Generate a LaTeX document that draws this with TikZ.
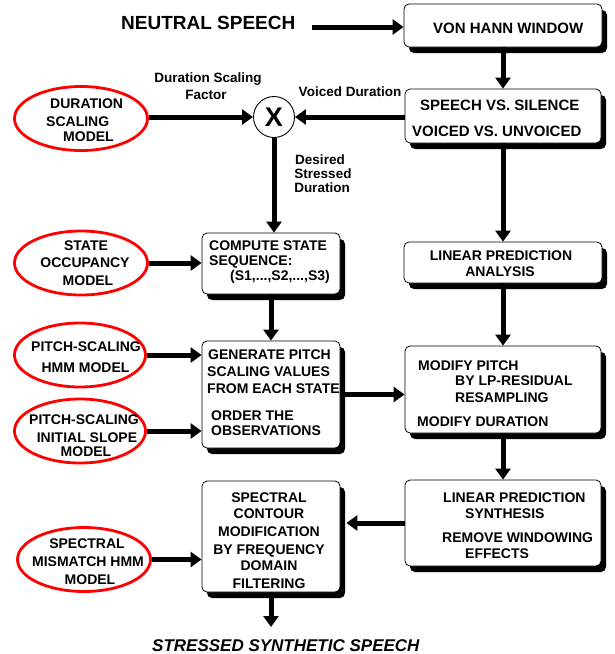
\documentclass[tikz,border=0pt]{standalone}
\usepackage{fontspec}
\setmainfont{Liberation Sans}
\usetikzlibrary{arrows.meta,shapes.geometric,shadows}
\begin{document}
\begin{tikzpicture}[x=1pt,y=-1pt,
  txt/.style={inner sep=0pt, anchor=base west, font=\fontsize{14}{16}\selectfont\bfseries},
  bigtxt/.style={txt, font=\fontsize{15}{17}\selectfont\bfseries},
  ctxt/.style={txt, anchor=base},
  lbl/.style={inner sep=0pt, anchor=base, font=\fontsize{13.5}{16}\selectfont\bfseries},
  box/.style={draw, line width=0.8pt, rounded corners=5pt, fill=white,
    drop shadow={shadow xshift=5pt, shadow yshift=-6pt, fill=black, opacity=1}},
  model/.style={ellipse, draw=red, line width=2.8pt, fill=white, inner sep=0pt},
  arr/.style={line width=5pt, -{Triangle[width=15pt,length=11pt]}}
]
\useasboundingbox (0,0) rectangle (614,654);

% boxes
\node[box, minimum width=198pt, minimum height=43pt] (vh) at (503,25.5) {};
\node[box, minimum width=196pt, minimum height=54pt] (sv) at (503,116) {};
\node[box, minimum width=198pt, minimum height=41pt] (lpa) at (503,262.5) {};
\node[box, minimum width=196pt, minimum height=87pt] (mp) at (503,389.5) {};
\node[box, minimum width=196pt, minimum height=86pt] (lps) at (503,523) {};
\node[box, minimum width=138pt, minimum height=61pt] (cs) at (271,263.5) {};
\node[box, minimum width=138pt, minimum height=107pt] (gp) at (271,394.5) {};
\node[box, minimum width=138pt, minimum height=111pt] (sc) at (271,536.5) {};

% models
\node[model, minimum width=133pt, minimum height=64pt] (e1) at (81,118.5) {};
\node[model, minimum width=133pt, minimum height=64pt] (e2) at (81,263) {};
\node[model, minimum width=131pt, minimum height=64pt] (e3) at (80,355) {};
\node[model, minimum width=131pt, minimum height=64pt] (e4) at (80,431) {};
\node[model, minimum width=133pt, minimum height=64pt] (e5) at (84,559.5) {};

% multiplier
\node[circle, draw, line width=0.9pt, fill=white, minimum size=41pt, inner sep=0pt,
  font=\fontsize{27}{27}\selectfont\bfseries] (X) at (274,117) {X};

% free texts
\node[inner sep=0pt, anchor=base west, font=\fontsize{19}{20}\selectfont\bfseries] (ns) at (121,29.5) {NEUTRAL SPEECH};
\node[inner sep=0pt, anchor=base west, font=\fontsize{17}{20}\selectfont\bfseries\itshape] (sss) at (152,651) {STRESSED SYNTHETIC SPEECH};
\node[lbl] (l1) at (208,82) {Duration Scaling};
\node[lbl] (l2) at (206,99) {Factor};
\node[lbl] (l3) at (350,96) {Voiced Duration};
\node[lbl] (l4) at (320,164) {Desired};
\node[lbl] (l5) at (323,178) {Stressed};
\node[lbl] (l6) at (322,192) {Duration};

% box texts
\node[bigtxt] (t1) at (433,33) {VON HANN WINDOW};
\node[bigtxt] (t2) at (420,110.5) {SPEECH VS. SILENCE};
\node[bigtxt] (t3) at (412,136) {VOICED VS. UNVOICED};
\node[ctxt] (t4) at (501,260) {LINEAR PREDICTION};
\node[ctxt] (t5) at (500,276) {ANALYSIS};
\node[txt] (t6) at (418,370) {MODIFY PITCH};
\node[txt] (t7) at (455,385) {BY LP-RESIDUAL};
\node[txt] (t8) at (455,402) {RESAMPLING};
\node[txt] (t9) at (417,426) {MODIFY DURATION};
\node[txt] (t10) at (443,502) {LINEAR PREDICTION};
\node[txt] (t11) at (465,518) {SYNTHESIS};
\node[txt] (t12) at (442,542) {REMOVE WINDOWING};
\node[txt] (t13) at (465,558) {EFFECTS};
\node[txt] (t14) at (209,250) {COMPUTE STATE};
\node[txt] (t15) at (209,265) {SEQUENCE:};
\node[txt] (t16) at (230,280) {(S1,...,S2,...,S3)};
\node[txt] (t17) at (208,359) {GENERATE PITCH};
\node[txt] (t18) at (207,376) {SCALING VALUES};
\node[txt] (t19) at (207,393) {FROM EACH STATE};
\node[txt] (t20) at (211,420) {ORDER THE};
\node[txt] (t21) at (211,435) {OBSERVATIONS};
\node[ctxt] (t22) at (269,502) {SPECTRAL};
\node[ctxt] (t23) at (269,518) {CONTOUR};
\node[ctxt] (t24) at (269,536) {MODIFICATION};
\node[ctxt] (t25) at (269,554) {BY FREQUENCY};
\node[ctxt] (t26) at (269,570) {DOMAIN};
\node[ctxt] (t27) at (269,588) {FILTERING};

% model texts
\node[txt] (m1) at (50,108) {DURATION};
\node[txt] (m2) at (46,126) {SCALING};
\node[txt] (m3) at (63,141) {MODEL};
\node[ctxt] (m4) at (86,250) {STATE};
\node[ctxt] (m5) at (85,267) {OCCUPANCY};
\node[ctxt] (m6) at (88,285) {MODEL};
\node[ctxt] (m7) at (86,351) {PITCH-SCALING};
\node[ctxt] (m8) at (85.5,372) {HMM MODEL};
\node[ctxt] (m9) at (84,424) {PITCH-SCALING};
\node[ctxt] (m10) at (87,442) {INITIAL SLOPE};
\node[ctxt] (m11) at (86,456) {MODEL};
\node[ctxt] (m12) at (87,548) {SPECTRAL};
\node[ctxt] (m13) at (88,566) {MISMATCH HMM};
\node[ctxt] (m14) at (90,584) {MODEL};

% connectors
\coordinate (ns0) at (312,27);
\draw[arr] (ns0) -- (ns0 -| vh.west);
\draw[arr] (vh.south) -- (sv.north);
\draw[arr] (sv.west |- X) -- (X.east);
\draw[arr] (e1.east |- X) -- (X.west);
\draw[arr] (X.south) -- (X.south |- cs.north);
\draw[arr] (sv.south) -- (lpa.north);
\draw[arr] (e2.east) -- (e2.east -| cs.west);
\draw[arr] (cs.south) -- (gp.north);
\draw[arr] (e3.east) -- (e3.east -| gp.west);
\draw[arr] (e4.east) -- (e4.east -| gp.west);
\draw[arr] (lpa.south) -- (mp.north);
\draw[arr] (gp.east) -- (gp.east -| mp.west);
\draw[arr] (mp.south) -- (lps.north);
\coordinate (scs) at ([xshift=6pt]sc.east);
\draw[arr] (lps.west) -- (lps.west -| scs);
\draw[arr] (e5.east) -- (e5.east -| sc.west);
\coordinate (sce) at (sc.south |- 0,627);
\draw[arr] (sc.south) -- (sce);
\end{tikzpicture}
\end{document}
